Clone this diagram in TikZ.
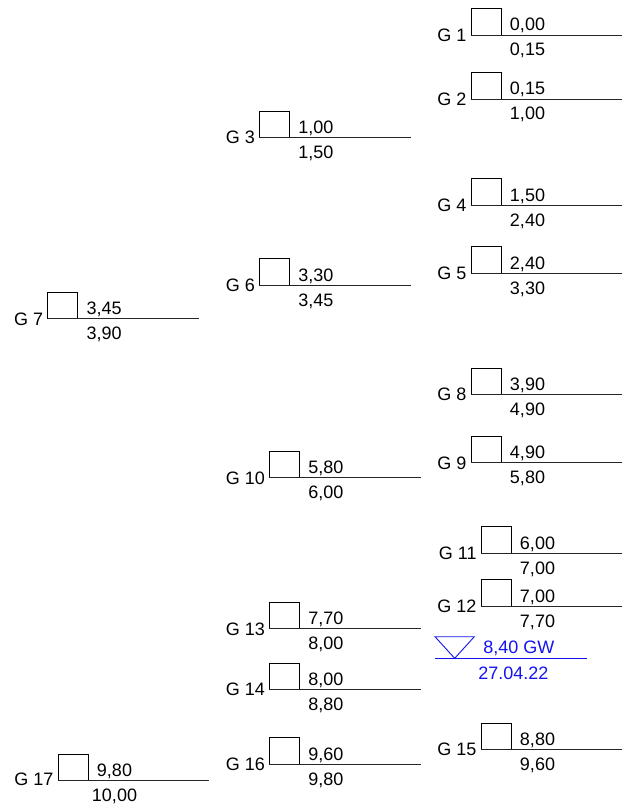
\documentclass[tikz,border=0pt]{standalone}
\usepackage{fontspec}
\setmainfont{Liberation Sans}
\definecolor{gwblue}{RGB}{20,20,240}
\tikzset{
  boxst/.style={draw=black, line width=0.8pt, minimum width=30pt, minimum height=26.3pt, inner sep=0pt, outer sep=0pt},
  lin/.style={draw=black!85, line width=0.9pt},
  txt/.style={font=\fontsize{18}{21}\selectfont, inner sep=0pt, outer sep=0pt},
  gw/.style={draw=gwblue, line width=0.9pt},
}
% #1 id, #2 label, #3 box left x, #4 line y, #5 line right x, #6 upper value, #7 lower value, #8 label baseline offset
\newcommand\schicht[8]{%
  \node[boxst, anchor=south west] (b#1) at (#3,#4) {};
  \coordinate (e#1) at (#5,#4);
  \draw[lin] (b#1.south west) -- (e#1);
  \node[txt, anchor=base east] (l#1) at ([xshift=-4.5pt,yshift=-#8pt]b#1.south west) {#2};
  \node[txt, anchor=base] (u#1) at ([xshift=26.5pt,yshift=4pt]b#1.south east) {#6};
  \node[txt, anchor=base] (d#1) at ([xshift=26.5pt,yshift=-21pt]b#1.south east) {#7};
}
\begin{document}
\begin{tikzpicture}[x=1pt,y=-1pt]
\fill[white] (0,0) rectangle (623,805);
\useasboundingbox (0,0) rectangle (623,805);
% right column
\schicht{1}{G 1}{471}{35}{622}{0,00}{0,15}{6.5}
\schicht{2}{G 2}{471}{99}{622}{0,15}{1,00}{6.5}
\schicht{4}{G 4}{471}{205}{622}{1,50}{2,40}{6.5}
\schicht{5}{G 5}{471}{273}{622}{2,40}{3,30}{6.5}
\schicht{8}{G 8}{471}{394.3}{622}{3,90}{4,90}{6.5}
\schicht{9}{G 9}{471}{462.7}{622}{4,90}{5,80}{6.5}
\schicht{11}{G 11}{481}{553}{622}{6,00}{7,00}{6.5}
\schicht{12}{G 12}{481}{606}{622}{7,00}{7,70}{6.5}
\schicht{15}{G 15}{481}{749.3}{622}{8,80}{9,60}{6.5}
% middle column
\schicht{3}{G 3}{259.3}{137.3}{411}{1,00}{1,50}{6.5}
\schicht{6}{G 6}{259.3}{285}{411}{3,30}{3,45}{6.5}
\schicht{10}{G 10}{269.3}{477.7}{421}{5,80}{6,00}{6.5}
\schicht{13}{G 13}{269.3}{628.7}{421}{7,70}{8,00}{6.5}
\schicht{14}{G 14}{269.3}{689.3}{421}{8,00}{8,80}{6.5}
\schicht{16}{G 16}{269.3}{764}{421}{9,60}{9,80}{6.5}
% left column
\schicht{7}{G 7}{47.7}{318.7}{199}{3,45}{3,90}{6.5}
\schicht{17}{G 17}{58}{780.7}{209}{9,80}{10,00}{4.5}
% groundwater
\coordinate (gwl) at (435,658.3);
\coordinate (gwr) at (587,658.3);
\coordinate (tl) at (435,636.7);
\coordinate (tr) at (474.3,636.7);
\coordinate (tp) at (454.7,658.3);
\draw[gw, line join=miter] (tl) -- (tr) -- (tp) -- cycle;
\draw[gw] (gwl) -- (gwr);
\node[txt, text=gwblue, anchor=base west] (gwtxt) at (483.3,653.3) {8,40 GW};
\node[txt, text=gwblue, anchor=base] (gwdate) at (513.3,679.3) {27.04.22};
\end{tikzpicture}
\end{document}
